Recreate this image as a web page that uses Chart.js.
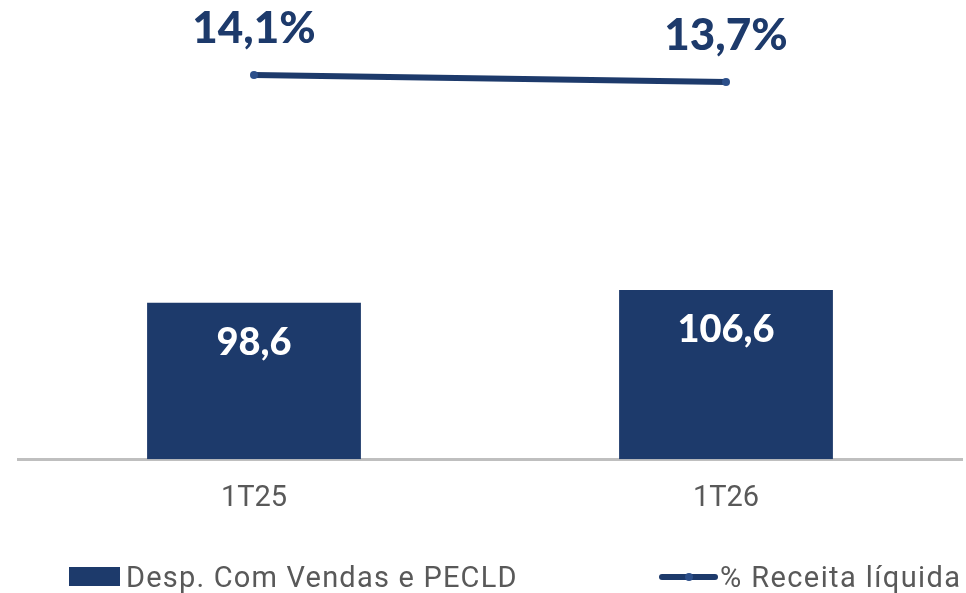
<!DOCTYPE html>
<html>
<head>
<meta charset="utf-8">
<script src="https://cdn.jsdelivr.net/npm/chart.js@4/dist/chart.umd.min.js"></script>
<style>
  html, body { margin: 0; padding: 0; background: #ffffff; }
  #wrap { position: relative; width: 966px; height: 593px; overflow: hidden; }
  #legend { position: absolute; left: 0; top: 0; width: 966px; height: 593px; pointer-events: none;
            font-family: Roboto, "Noto Sans", sans-serif; font-size: 29px; color: #595959; }
  .item { position: absolute; display: flex; align-items: center; top: 560px; height: 33px; white-space: nowrap; }
  .swatch-box { width: 51px; height: 19px; margin-right: 6px; }
  .swatch-line { width: 59px; height: 6px; border-radius: 3px; margin-right: 2px; position: relative; }
  .swatch-line span { position: absolute; left: 26px; top: -1px; width: 8px; height: 8px; border-radius: 4px; background: #2c4f8a; }
</style>
</head>
<body>
<div id="wrap">
  <canvas id="chart" width="966" height="593"></canvas>
  <div id="legend"></div>
</div>
<script>
// Data
const categories = ['1T25', '1T26'];
const despesas = [98.6, 106.6];
const despesasLabels = ['98,6', '106,6'];
const receitaPct = [14.1, 13.7];
const receitaLabels = ['14,1%', '13,7%'];

const navy = '#1d3a6b';
const grey = '#595959';

// Draws value labels: inside the bars and above the line points
const valueLabels = {
    id: 'valueLabels',
    afterDatasetsDraw(chart) {
        const ctx = chart.ctx;
        ctx.save();
        ctx.textAlign = 'center';
        ctx.textBaseline = 'middle';

        // dataset 1 = bars
        chart.getDatasetMeta(1).data.forEach((bar, i) => {
            ctx.fillStyle = '#ffffff';
            ctx.font = '900 38px Lato, Roboto, sans-serif';
            ctx.fillText(despesasLabels[i], bar.x, bar.y + 40);
        });

        // dataset 0 = line
        chart.getDatasetMeta(0).data.forEach((pt, i) => {
            ctx.fillStyle = navy;
            ctx.font = '900 44px Lato, Roboto, sans-serif';
            ctx.fillText(receitaLabels[i], pt.x, pt.y - 46);
        });
        ctx.restore();
    }
};

const ctx = document.getElementById('chart').getContext('2d');
const chart = new Chart(ctx, {
    type: 'bar',
    data: {
        labels: categories,
        datasets: [
            {
                type: 'line',
                label: '% Receita líquida',
                data: receitaPct,
                yAxisID: 'y1',
                borderColor: navy,
                borderWidth: 6,
                borderCapStyle: 'round',
                pointRadius: 4,
                pointBackgroundColor: '#2c4f8a',
                pointBorderWidth: 0,
                tension: 0,
                order: 0
            },
            {
                type: 'bar',
                label: 'Desp. Com Vendas e PECLD',
                data: despesas,
                yAxisID: 'y',
                backgroundColor: navy,
                categoryPercentage: 1,
                barPercentage: 0.453,
                order: 1
            }
        ]
    },
    options: {
        responsive: false,
        animation: false,
        layout: { padding: { left: 18, right: 3, top: 10, bottom: 55 } },
        plugins: {
            legend: { display: false },
            tooltip: { enabled: false }
        },
        scales: {
            x: {
                grid: { display: false, drawTicks: false },
                border: { display: true, color: '#bfbfbf', width: 3 },
                ticks: {
                    color: grey,
                    padding: 22,
                    font: { family: 'Roboto', size: 29 }
                }
            },
            y: {
                display: false,
                min: 0,
                max: 283
            },
            y1: {
                display: false,
                min: -7.8,
                max: 17.8
            }
        }
    },
    plugins: [valueLabels]
});

// Legend built from the datasets
const legend = document.getElementById('legend');
const barDs = chart.data.datasets[1];
const lineDs = chart.data.datasets[0];
legend.innerHTML =
    '<div class="item" style="left:69px;letter-spacing:1.2px"><div class="swatch-box" style="background:' + barDs.backgroundColor + '"></div>' + barDs.label + '</div>' +
    '<div class="item" style="left:659px;letter-spacing:1.4px"><div class="swatch-line" style="background:' + lineDs.borderColor + '"><span></span></div>' + lineDs.label + '</div>';
</script>
</body>
</html>
